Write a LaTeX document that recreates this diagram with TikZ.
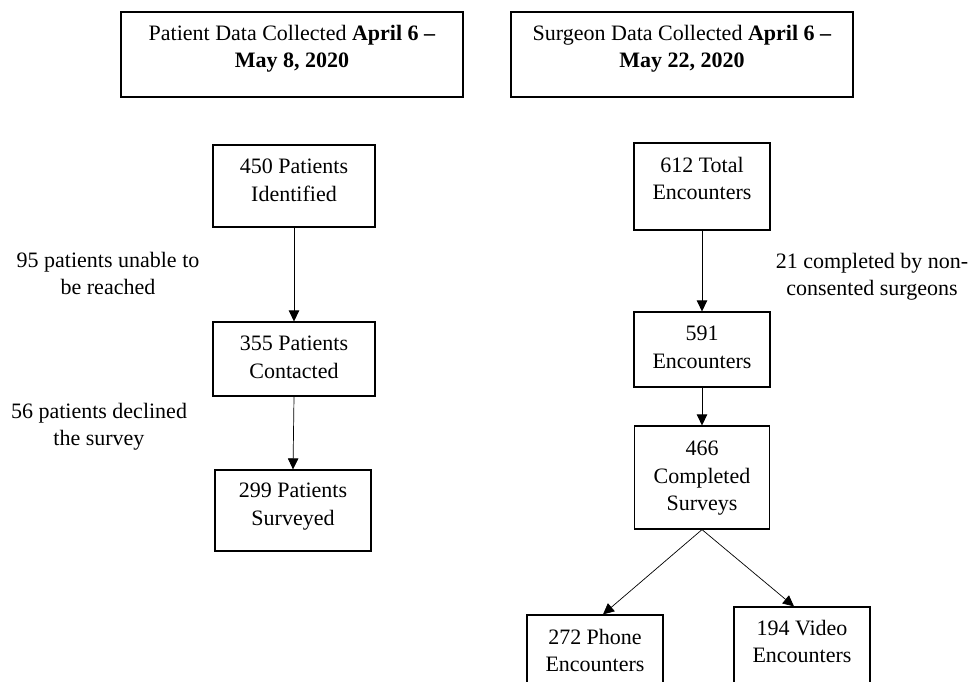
\documentclass[tikz,border=0pt]{standalone}
\usepackage{fontspec}
\setmainfont{Liberation Serif}
\usetikzlibrary{arrows.meta}
\begin{document}
\begin{tikzpicture}[x=1pt,y=-1pt,
  box/.style={draw, line width=1.2pt, inner sep=0pt},
  txt/.style={anchor=north, align=center, inner sep=0pt, font=\fontsize{22}{27.5}\selectfont},
  arr/.style={line width=0.7pt, -{Triangle[width=10.5pt,length=11pt]}}]
\useasboundingbox (0,0) rectangle (969,682);
\clip (0,0) rectangle (969,682);
% header boxes
\node[box, minimum width=342pt, minimum height=85pt] (pdata) at (292,54.5) {};
\node[txt] (pdatat) at (292,25) {Patient Data Collected \textbf{April 6 –}\\\textbf{May 8, 2020}};
\node[box, minimum width=342pt, minimum height=85pt] (sdata) at (682,54.5) {};
\node[txt] (sdatat) at (682,25) {Surgeon Data Collected \textbf{April 6 –}\\\textbf{May 22, 2020}};
% patient column
\node[box, minimum width=162pt, minimum height=82pt] (n450) at (294,186) {};
\node[txt] (n450t) at (294,159) {450 Patients\\Identified};
\node[box, minimum width=162pt, minimum height=74pt] (n355) at (294,359) {};
\node[txt] (n355t) at (294,336) {355 Patients\\Contacted};
\node[box, minimum width=156pt, minimum height=81pt] (n299) at (293,510.5) {};
\node[txt] (n299t) at (293,483) {299 Patients\\Surveyed};
% surgeon column
\node[box, minimum width=136pt, minimum height=87pt] (n612) at (702,186.5) {};
\node[txt] (n612t) at (702,157) {612 Total\\Encounters};
\node[box, minimum width=136pt, minimum height=75pt] (n591) at (702,349.5) {};
\node[txt] (n591t) at (702,326) {591\\Encounters};
\node[box, minimum width=135pt, minimum height=103pt] (n466) at (702,477.5) {};
\node[txt] (n466t) at (702,441) {466\\Completed\\Surveys};
\node[box, minimum width=136pt, minimum height=100pt] (phone) at (595,665) {};
\node[txt] (phonet) at (595,629) {272 Phone\\Encounters};
\node[box, minimum width=136pt, minimum height=100pt] (video) at (802,657) {};
\node[txt] (videot) at (802,620) {194 Video\\Encounters};
% side labels
\node[txt] (l95) at (108,252) {95 patients unable to\\be reached};
\node[txt] (l56) at (99,403) {56 patients declined\\the survey};
\node[txt] (l21) at (872,253) {21 completed by non-\\consented surgeons};
% arrows
\draw[arr] (n450.south) -- (n355.north);
\draw[arr] (n355.south) -- (n299.north);
\draw[arr] (n612.south) -- (n591.north);
\draw[arr] (n591.south) -- (n466.north);
\draw[arr] (n466.south) -- ([xshift=8pt]phone.north);
\draw[arr] (n466.south) -- ([xshift=-8pt]video.north);
\end{tikzpicture}
\end{document}
